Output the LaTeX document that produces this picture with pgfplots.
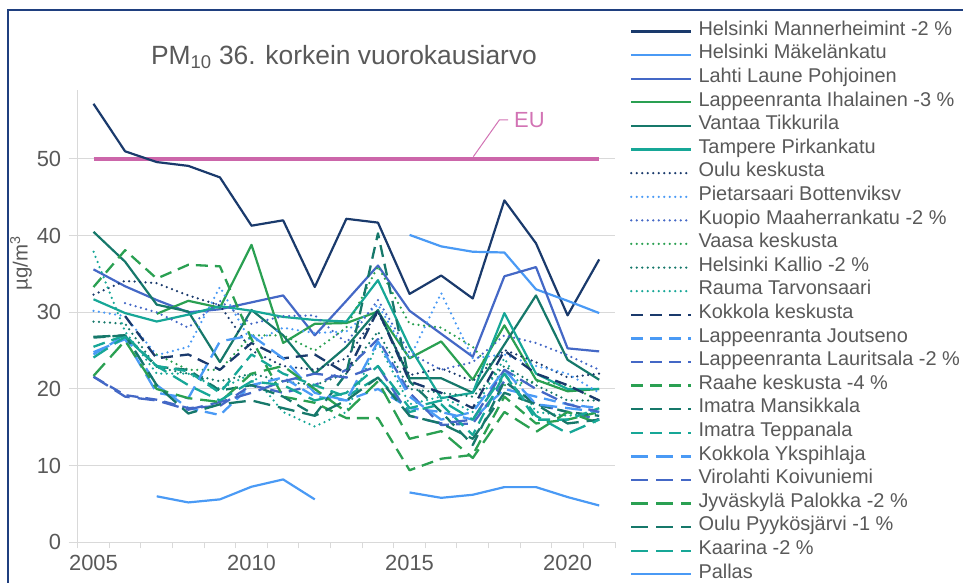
\documentclass[border=0pt]{standalone}
\usepackage{pgfplots}
\pgfplotsset{compat=1.18}
\usepackage{pgfplotstable}
\usepackage{fontspec}
\setmainfont{Liberation Sans}
\definecolor{cNavy}{HTML}{1A3A6C}
\definecolor{cLight}{HTML}{4A9AF5}
\definecolor{cMed}{HTML}{4468C6}
\definecolor{cGreen}{HTML}{2AA052}
\definecolor{cDTeal}{HTML}{16786A}
\definecolor{cTeal}{HTML}{17A797}
\definecolor{cEU}{HTML}{CC66AA}
\definecolor{cEUt}{HTML}{D273B4}
\definecolor{cText}{HTML}{595959}
\definecolor{cGrid}{HTML}{D9D9D9}
\definecolor{cFrame}{HTML}{1F3F7F}

\pgfplotstableread{
year s1 s2 s3 s4 s5 s6 s7 s8 s9 s10 s11 s12 s13 s14 s15 s16 s17 s18 s19 s20 s21 s22 s23 s24
2005 57.2 nan 35.6 nan 40.5 31.7 32.3 30.2 nan nan 28.8 37.9 nan 24.5 21.6 33.3 26.7 25.5 24.8 21.6 21.7 26.8 24.1 nan
2006 51.0 nan 33.4 nan 36.6 29.9 34.1 29.5 31.2 nan 28.5 27.5 29.5 27.0 19.2 38.1 27.0 27.0 26.5 19.0 26.3 27.0 26.8 nan
2007 49.6 nan 31.6 29.8 31.0 28.8 33.8 24.4 30.0 24.5 22.8 22.0 24.0 20.5 18.6 34.4 22.9 23.0 19.5 18.5 20.0 20.5 23.0 6.0
2008 49.1 nan 30.0 31.5 30.1 29.7 32.2 25.5 28.0 22.5 22.0 22.0 24.5 17.5 17.5 36.2 22.5 22.3 18.8 17.3 18.8 16.8 20.5 5.2
2009 47.6 nan 30.4 30.6 23.5 30.8 30.9 33.3 31.5 22.5 21.0 20.0 22.5 16.6 17.8 36.0 19.8 19.5 26.2 18.3 18.3 18.0 18.5 5.6
2010 41.3 nan 31.3 38.8 30.3 30.2 25.0 26.0 28.5 27.0 22.0 22.0 26.0 20.5 20.5 26.5 20.5 24.5 27.0 19.5 22.0 18.5 21.0 7.25
2011 42.0 nan 32.2 26.0 27.0 29.4 23.0 28.0 29.5 27.0 21.0 17.0 24.0 21.5 19.5 19.0 19.0 22.0 24.0 21.0 23.0 17.5 20.5 8.2
2012 33.3 nan 27.0 28.5 22.0 29.0 22.5 27.3 29.6 25.0 20.5 15.1 24.5 19.0 20.5 18.2 16.6 20.5 19.5 22.0 20.0 16.5 18.5 5.6
2013 42.2 nan 31.5 28.6 25.5 28.8 24.0 27.5 26.0 28.0 22.0 17.0 22.0 18.5 22.5 16.2 22.0 19.0 18.5 21.5 17.0 18.5 19.5 nan
2014 41.7 nan 36.1 30.1 30.3 34.2 30.0 31.0 31.6 36.0 27.5 26.0 30.3 20.0 26.5 16.2 40.3 21.5 26.2 23.0 21.0 21.5 23.0 nan
2015 32.4 40.1 30.2 24.0 21.4 25.5 21.8 24.0 24.7 28.5 20.0 18.0 21.0 17.5 19.5 9.4 21.0 17.0 19.0 16.5 13.5 16.5 17.5 6.5
2016 34.8 38.6 27.2 26.2 21.4 18.8 22.7 32.5 22.5 28.0 19.5 19.0 19.5 17.0 15.3 10.9 17.0 18.0 16.0 15.5 14.5 15.5 18.5 5.8
2017 31.8 37.9 24.2 21.2 19.5 19.5 21.0 24.0 23.5 25.5 19.0 17.0 17.5 16.0 15.5 11.4 12.7 14.0 17.0 16.0 11.0 13.5 16.0 6.2
2018 44.6 37.8 34.7 28.3 25.8 29.9 25.1 24.5 27.0 20.5 23.0 24.0 25.0 20.0 21.0 19.0 21.0 22.0 22.5 22.5 17.0 19.5 22.0 7.2
2019 39.0 33.0 35.9 21.2 32.2 22.0 23.5 23.0 26.0 21.0 20.5 17.0 22.0 19.0 18.0 15.5 18.0 16.0 18.0 20.0 14.4 18.0 16.5 7.2
2020 29.6 31.5 25.3 19.7 23.8 20.0 21.5 22.0 24.4 20.5 18.5 16.5 20.5 18.0 17.0 16.0 17.0 16.0 17.5 18.0 17.0 15.5 14.2 5.9
2021 36.9 29.9 24.9 20.0 21.2 20.0 22.0 19.5 22.5 18.5 18.5 17.0 18.5 17.5 16.0 17.0 16.5 17.5 17.0 17.0 15.5 16.0 16.0 4.8
}\data

\pgfplotstableread{
year eu
2005 50
2006 50
2007 50
2008 50
2009 50
2010 50
2011 50
2012 50
2013 50
2014 50
2015 50
2016 50
2017 50
2018 50
2019 50
2020 50
2021 50
}\eudata

\tikzset{
  sl/.style={line width=2.2bp, line join=round, solid},
  dt/.style={line width=2.5bp, line join=round, line cap=round, dash pattern=on 0bp off 5.5bp},
  ds/.style={line width=2.3bp, line join=round, dash pattern=on 12bp off 7bp},
  ld/.style={line width=2.3bp, line join=round, dash pattern=on 17bp off 8bp},
}

\begin{document}
\begin{tikzpicture}[x=1bp,y=1bp]
\draw[cFrame, line width=2bp] (8,-30) -- (8,573) -- (1000,573);
\node[text=cText, font=\fontsize{26.5}{30}\selectfont] at (344,526) {PM\textsubscript{10} 36. korkein vuorokausiarvo};
\node[text=cText, rotate=90, font=\fontsize{20.5}{24}\selectfont] at (21,320) {µg/m\textsuperscript{3}};
\begin{axis}[
  at={(77.7bp,40.7bp)}, anchor=south west,
  scale only axis, width=537.3bp, height=452.3bp,
  xmin=2004.5, xmax=2021.5, ymin=0, ymax=59,
  axis lines*=left,
  axis line style={cGrid, line width=1bp},
  unbounded coords=jump,
  ymajorgrids, grid style={cGrid, line width=1bp},
  ytick={0,10,20,30,40,50},
  xtick={2005,2010,2015,2020},
  minor xtick={2004.5,2005.5,...,2021.5},
  major x tick style={draw=none},
  minor x tick style={cGrid, line width=1bp},
  ytick style={cGrid, line width=1bp},
  tick align=outside,
  major tick length=9bp, minor tick length=6bp,
  /pgf/number format/1000 sep={},
  /pgf/number format/assume math mode=true,
  ticklabel style={text=cText, font=\fontsize{22}{25}\selectfont},
  xticklabel style={yshift=0bp},
  yticklabel style={xshift=-4bp},
  clip=false,
  legend cell align=left,
  legend style={at={(1.0279,1.1553)}, anchor=north west, draw=none, fill=none,
    inner sep=0pt, outer sep=0pt, row sep=0pt,
    font=\fontsize{20}{23}\selectfont, text=cText,
    nodes={inner sep=0pt, text height=15.6bp, text depth=8bp}},
  legend image code/.code={\draw[#1] (0bp,0bp) -- (60bp,0bp); \path (66bp,0bp);},
]
\addplot[cEU, line width=4bp, forget plot] table[x=year,y=eu]{\eudata};
\addplot[sl, cNavy] table[x=year,y=s1]{\data}; \addlegendentry{Helsinki Mannerheimint -2 \%}
\addplot[sl, cLight] table[x=year,y=s2]{\data}; \addlegendentry{Helsinki Mäkelänkatu}
\addplot[sl, cMed] table[x=year,y=s3]{\data}; \addlegendentry{Lahti Laune Pohjoinen}
\addplot[sl, cGreen] table[x=year,y=s4]{\data}; \addlegendentry{Lappeenranta Ihalainen -3 \%}
\addplot[sl, cDTeal] table[x=year,y=s5]{\data}; \addlegendentry{Vantaa Tikkurila}
\addplot[sl, cTeal] table[x=year,y=s6]{\data}; \addlegendentry{Tampere Pirkankatu}
\addplot[dt, cNavy] table[x=year,y=s7]{\data}; \addlegendentry{Oulu keskusta}
\addplot[dt, cLight] table[x=year,y=s8]{\data}; \addlegendentry{Pietarsaari Bottenviksv}
\addplot[dt, cMed] table[x=year,y=s9]{\data}; \addlegendentry{Kuopio Maaherrankatu -2 \%}
\addplot[dt, cGreen] table[x=year,y=s10]{\data}; \addlegendentry{Vaasa keskusta}
\addplot[dt, cDTeal] table[x=year,y=s11]{\data}; \addlegendentry{Helsinki Kallio -2 \%}
\addplot[dt, cTeal] table[x=year,y=s12]{\data}; \addlegendentry{Rauma Tarvonsaari}
\addplot[ds, cNavy] table[x=year,y=s13]{\data}; \addlegendentry{Kokkola keskusta}
\addplot[ds, cLight] table[x=year,y=s14]{\data}; \addlegendentry{Lappeenranta Joutseno}
\addplot[ds, cMed] table[x=year,y=s15]{\data}; \addlegendentry{Lappeenranta Lauritsala -2 \%}
\addplot[ds, cGreen] table[x=year,y=s16]{\data}; \addlegendentry{Raahe keskusta -4 \%}
\addplot[ds, cDTeal] table[x=year,y=s17]{\data}; \addlegendentry{Imatra Mansikkala}
\addplot[ds, cTeal] table[x=year,y=s18]{\data}; \addlegendentry{Imatra Teppanala}
\addplot[ld, cLight] table[x=year,y=s19]{\data}; \addlegendentry{Kokkola Ykspihlaja}
\addplot[ld, cMed] table[x=year,y=s20]{\data}; \addlegendentry{Virolahti Koivuniemi}
\addplot[ld, cGreen] table[x=year,y=s21]{\data}; \addlegendentry{Jyväskylä Palokka -2 \%}
\addplot[ld, cDTeal] table[x=year,y=s22]{\data}; \addlegendentry{Oulu Pyykösjärvi -1 \%}
\addplot[ld, cTeal] table[x=year,y=s23]{\data}; \addlegendentry{Kaarina -2 \%}
\addplot[sl, cLight] table[x=year,y=s24]{\data}; \addlegendentry{Pallas}
\end{axis}
\draw[cEUt, line width=1bp] (473.3,426.3) -- (499.3,463) -- (508,463);
\node[text=cEUt, anchor=west, inner sep=0pt, font=\fontsize{22}{25}\selectfont] at (514,463) {EU};
\pgfresetboundingbox
\useasboundingbox (0,0) rectangle (963,583);
\end{tikzpicture}
\end{document}
